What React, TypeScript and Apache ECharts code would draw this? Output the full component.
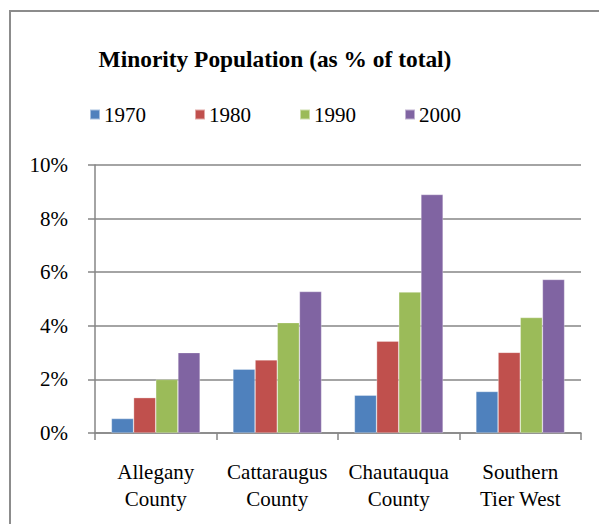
import React, { useEffect, useRef } from "react";
import * as echarts from "echarts";

const categories = ["Allegany\nCounty", "Cattaraugus\nCounty", "Chautauqua\nCounty", "Southern\nTier West"];
const years = ["1970", "1980", "1990", "2000"];
const values1970 = [0.54, 2.38, 1.41, 1.55];
const values1980 = [1.32, 2.73, 3.43, 3.01];
const values1990 = [2.0, 4.12, 5.26, 4.31];
const values2000 = [3.0, 5.28, 8.9, 5.73];
const yTicks = [0, 2, 4, 6, 8, 10];
const colors = ["#4F81BD", "#C0504D", "#9BBB59", "#8064A2"];

export default function App() {
  const ref = useRef<HTMLDivElement>(null);
  useEffect(() => {
    if (!ref.current) return;
    const chart = echarts.init(ref.current, null, { renderer: "svg" });
    const seriesData = [values1970, values1980, values1990, values2000];
    const font = "Liberation Serif";
    chart.setOption({
      animation: false,
      backgroundColor: "#ffffff",
      textStyle: { fontFamily: font },
      title: {
        text: "Minority Population (as % of total)",
        left: 270,
        textAlign: "center",
        top: 42,
        textStyle: { fontFamily: font, fontSize: 23.4, fontWeight: "bold", color: "#000" },
      },
      legend: {
        data: years,
        left: 84,
        top: 99,
        itemWidth: 10,
        itemHeight: 10,
        itemGap: 48,
        icon: "rect",
        textStyle: { fontFamily: font, fontSize: 21, color: "#000", padding: [0, 0, 0, -1] },
      },
      graphic: [
        {
          type: "rect",
          shape: { x: 10, y: 11, width: 640, height: 560 },
          style: { fill: "none", stroke: "#8c8c8c", lineWidth: 2 },
          silent: true,
        },
      ],
      grid: { left: 95, right: 18, top: 165, bottom: 91 },
      xAxis: {
        type: "category",
        data: categories,
        axisLine: { lineStyle: { color: "#868686", width: 1.5 } },
        axisTick: { show: true, length: 7, lineStyle: { color: "#868686", width: 1.5 } },
        axisLabel: { fontFamily: font, fontSize: 21, color: "#000", margin: 25, lineHeight: 27, interval: 0 },
      },
      yAxis: {
        type: "value",
        min: yTicks[0],
        max: yTicks[yTicks.length - 1],
        interval: 2,
        axisLine: { show: true, lineStyle: { color: "#868686", width: 1.5 } },
        axisTick: { show: true, length: 7, lineStyle: { color: "#868686", width: 1.5 } },
        splitLine: { lineStyle: { color: "#868686", width: 1.5 } },
        axisLabel: { fontFamily: font, fontSize: 21, color: "#000", margin: 27, formatter: "{value}%" },
      },
      series: years.map((y, i) => ({
        name: y,
        type: "bar",
        data: seriesData[i],
        barGap: "0%",
        barCategoryGap: "27%",
        itemStyle: { color: colors[i], borderColor: "rgba(255,255,255,0.5)", borderWidth: 0.6 },
      })),
    });
    return () => chart.dispose();
  }, []);
  return <div ref={ref} style={{ position: "absolute", left: 0, top: 0, width: 599, height: 524 }} />;
}
